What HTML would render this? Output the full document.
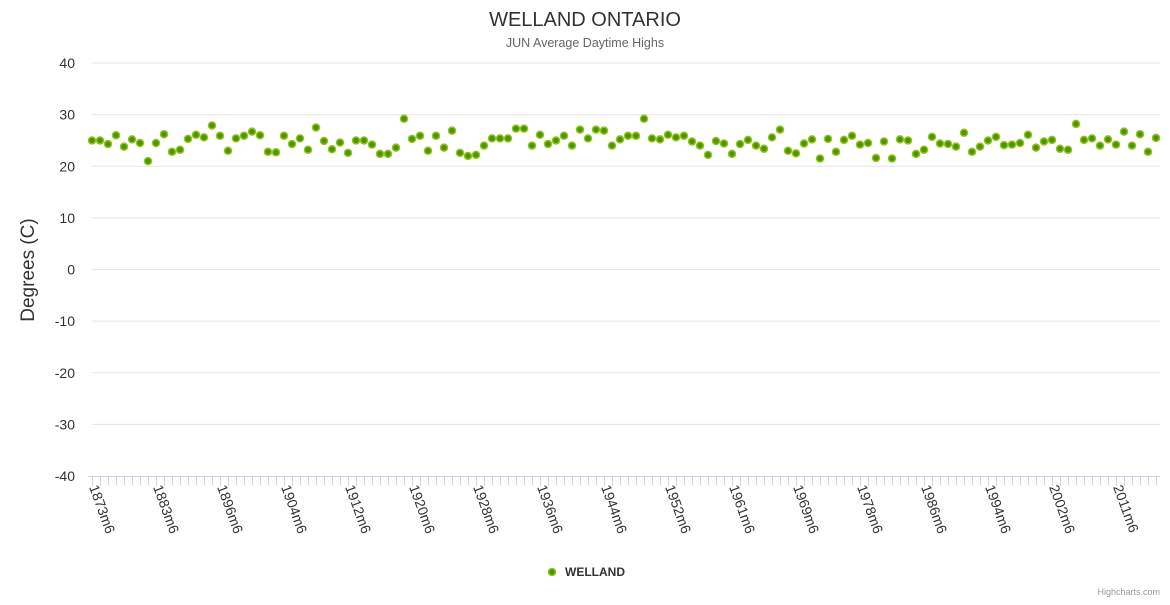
<!DOCTYPE html>
<html><head><meta charset="utf-8"><style>
body{margin:0;background:#fff;font-family:"Liberation Sans",sans-serif}
</style></head><body>
<svg id="c" width="1170" height="600" xmlns="http://www.w3.org/2000/svg">
<text x="585" y="26" text-anchor="middle" font-size="20" fill="#333">WELLAND ONTARIO</text>
<text x="585" y="47" text-anchor="middle" font-size="12.5" fill="#666">JUN Average Daytime Highs</text>
<text transform="translate(34,270) rotate(-90)" text-anchor="middle" font-size="19" fill="#333">Degrees (C)</text>
<g id="grid"></g><g id="xax"></g><g id="pts"></g>
<g>
<circle cx="552" cy="572" r="3.5" fill="#4f9400" stroke="#8fc31f" stroke-width="1.5"/>
<text x="565" y="576" font-size="12" font-weight="bold" fill="#333">WELLAND</text></g>
<text x="1160" y="595" text-anchor="end" font-size="9" fill="#999">Highcharts.com</text>
</svg>
<script>
const categories=["1873","1874","1875","1877","1878","1879","1880","1882","1883","1884","1886","1888","1890","1892","1893","1895","1896","1897","1898","1899","1900","1901","1902","1903","1904","1905","1906","1907","1908","1909","1910","1911","1912","1913","1914","1915","1916","1917","1918","1919","1920","1921","1922","1923","1924","1925","1926","1927","1928","1929","1930","1931","1932","1933","1934","1935","1936","1937","1938","1939","1940","1941","1942","1943","1944","1945","1946","1947","1948","1949","1950","1951","1952","1953","1954","1955","1957","1958","1959","1960","1961","1962","1963","1964","1965","1966","1967","1968","1969","1970","1971","1972","1974","1975","1976","1977","1978","1979","1980","1981","1982","1983","1984","1985","1986","1987","1988","1989","1990","1991","1992","1993","1994","1995","1996","1997","1998","1999","2000","2001","2002","2003","2004","2005","2006","2008","2009","2010","2011","2012","2013","2014","2015","2016"];
const values=[25,25,24.3,26,23.8,25.2,24.5,21,24.5,26.2,22.8,23.2,25.3,26.1,25.6,27.9,25.9,23,25.4,25.9,26.7,26,22.8,22.7,25.9,24.3,25.4,23.2,27.5,24.9,23.3,24.6,22.6,25,25,24.2,22.4,22.4,23.6,29.2,25.3,25.9,23,25.9,23.6,26.9,22.6,22,22.2,24,25.4,25.4,25.4,27.3,27.3,24,26.1,24.3,25,25.9,24,27.1,25.4,27.1,26.9,24,25.2,25.9,25.9,29.2,25.4,25.2,26.1,25.6,25.9,24.8,24,22.2,24.9,24.4,22.4,24.3,25.1,24,23.4,25.6,27.1,23,22.5,24.4,25.2,21.5,25.3,22.8,25.1,25.9,24.2,24.5,21.6,24.8,21.5,25.2,25,22.4,23.2,25.7,24.4,24.3,23.8,26.5,22.8,23.8,25,25.7,24.1,24.2,24.5,26.1,23.6,24.8,25.1,23.4,23.2,28.2,25.1,25.4,24,25.2,24.2,26.7,24,26.2,22.8,25.5];
const yTicks=[40,30,20,10,0,-10,-20,-30,-40];
const NS="http://www.w3.org/2000/svg";
const x0=92,step=8,yTop=63,yBot=476,yMin=-40,yMax=40;
const xS=i=>x0+i*step;
const yS=v=>yBot-(v-yMin)/(yMax-yMin)*(yBot-yTop);
function mk(t,a,p){const e=document.createElementNS(NS,t);for(const k in a)e.setAttribute(k,a[k]);p.appendChild(e);return e;}
const grid=document.getElementById('grid');
yTicks.forEach(v=>{
 if(v!==yMin){const l=mk('line',{x1:92,x2:1160,y1:yS(v),y2:yS(v),stroke:'#e6e6e6'},grid);
 
 }
 const t=mk('text',{x:75,y:yS(v)+5,'text-anchor':'end','font-size':14,fill:'#333'},grid);
 
 
 t.textContent=v;
});
const xax=document.getElementById('xax');
const al=mk('line',{x1:88,x2:1160,y1:yBot+0.5,y2:yBot+0.5,stroke:'#ccd6eb'},xax);


categories.forEach((c,i)=>{
 const x=xS(i)+0.5;
 const tk=mk('line',{x1:x,x2:x,y1:yBot,y2:yBot+10,stroke:'#ccd6eb'},xax);
 
 
 if(i%8===0){
  const t=mk('text',{transform:`translate(${xS(i)-3},${yBot+11}) rotate(70)`,'font-size':14,fill:'#333'},xax);
  
  
  t.textContent=c+"m6";
 }
});
const pts=document.getElementById('pts');
values.forEach((v,i)=>{
 const p=mk('circle',{cx:xS(i),cy:yS(v),r:3.5,fill:'#4f9400',stroke:'#8fc31f','stroke-width':1.5},pts);
 
 
});
</script>
</body></html>
